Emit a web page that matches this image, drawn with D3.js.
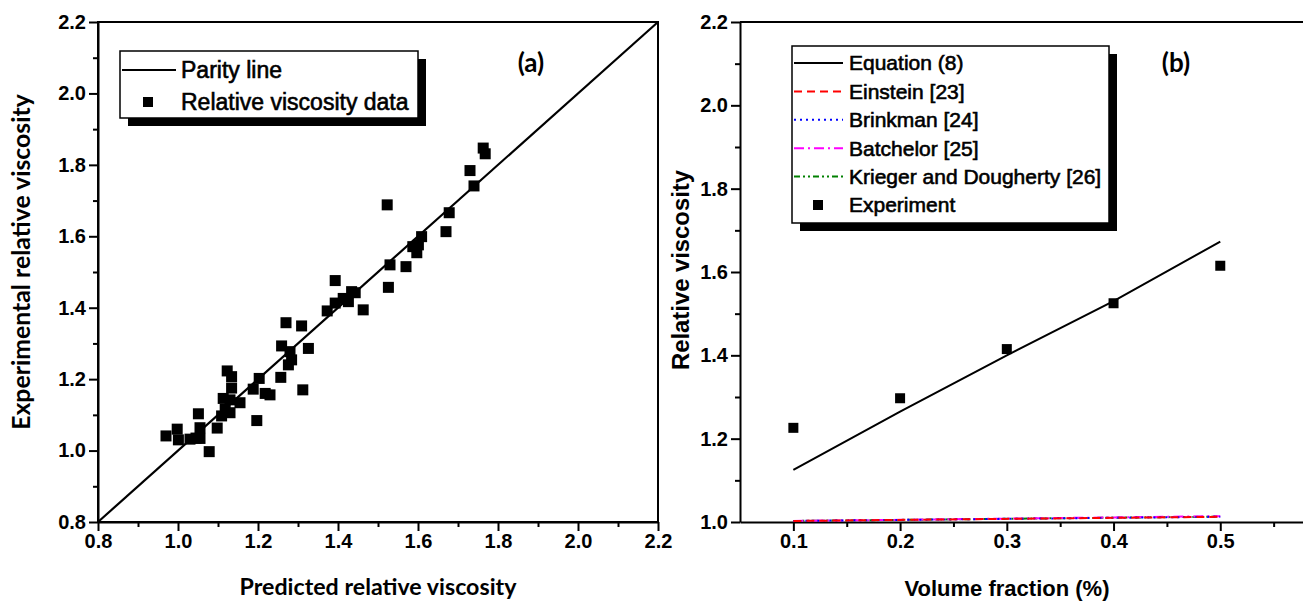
<!DOCTYPE html>
<html>
<head>
<meta charset="utf-8">
<script src="https://cdn.jsdelivr.net/npm/d3@7"></script>
<style>
  body { margin: 0; background: #fff; }
  svg { display: block; }
</style>
</head>
<body>
<div id="chart"></div>
<script>
// panel (a): predicted vs experimental relative viscosity
const predicted = [0.970, 0.998, 1.001, 1.030, 1.045, 1.051, 1.055, 1.055, 1.078, 1.098, 1.109, 1.113,
  1.123, 1.134, 1.134, 1.130, 1.130, 1.118, 1.155, 1.188, 1.197, 1.203, 1.218, 1.230, 1.257, 1.259,
  1.270, 1.280, 1.284, 1.276, 1.309, 1.312, 1.326, 1.373, 1.393, 1.393, 1.413, 1.426, 1.434, 1.443,
  1.463, 1.523, 1.526, 1.530, 1.570, 1.587, 1.597, 1.601, 1.609, 1.670, 1.678, 1.730, 1.740, 1.763, 1.768];
const experimental = [1.041, 1.060, 1.030, 1.032, 1.035, 1.103, 1.064, 1.034, 0.997, 1.063, 1.097, 1.146,
  1.223, 1.207, 1.175, 1.142, 1.106, 1.115, 1.134, 1.172, 1.084, 1.202, 1.160, 1.156, 1.205, 1.293,
  1.358, 1.277, 1.254, 1.240, 1.349, 1.170, 1.286, 1.391, 1.476, 1.413, 1.426, 1.417, 1.445, 1.442,
  1.394, 1.688, 1.457, 1.520, 1.515, 1.571, 1.554, 1.576, 1.599, 1.613, 1.666, 1.784, 1.741, 1.847, 1.831];
const parityEnds = [0.8, 2.2];
const aMajorTicks = [0.8, 1.0, 1.2, 1.4, 1.6, 1.8, 2.0, 2.2];
const aMinorTicks = [0.9, 1.1, 1.3, 1.5, 1.7, 1.9, 2.1];

// panel (b): relative viscosity vs volume fraction
const fractions = [0.1, 0.2, 0.3, 0.4, 0.5];
const experiment = [1.226, 1.297, 1.415, 1.525, 1.615];
const equation8 = [1.125, 1.265, 1.400, 1.530, 1.673];
const einstein = [1.0025, 1.0050, 1.0075, 1.0100, 1.0125];
const brinkman = [1.0025, 1.0050, 1.0076, 1.0101, 1.0126];
const batchelor = [1.0026, 1.0052, 1.0081, 1.0110, 1.0140];
const krieger = [1.0025, 1.0051, 1.0077, 1.0103, 1.0130];
const bxMajorTicks = [0.1, 0.2, 0.3, 0.4, 0.5];
const bxMinorTicks = [0.15, 0.25, 0.35, 0.45, 0.55];
const byMajorTicks = [1.0, 1.2, 1.4, 1.6, 1.8, 2.0, 2.2];
const byMinorTicks = [1.1, 1.3, 1.5, 1.7, 1.9, 2.1];

const models = [
  { name: "Equation (8)", values: equation8, color: "#000", dash: "none" },
  { name: "Einstein [23]", values: einstein, color: "#ff0000", dash: "8,5" },
  { name: "Brinkman [24]", values: brinkman, color: "#0000ff", dash: "2,4" },
  { name: "Batchelor [25]", values: batchelor, color: "#ff00ff", dash: "10,4,2,4" },
  { name: "Krieger and Dougherty [26]", values: krieger, color: "#008000", dash: "6,3,2,3,2,3" },
];

const W = 1303, H = 601;
const ARIAL = "'Liberation Sans', Arial, sans-serif";
const CAL = "Lato, 'Open Sans', sans-serif";

const svg = d3.select("#chart").append("svg").attr("width", W).attr("height", H);

// draws a major+minor axis pair, ticks outward
function drawAxis(axisFn, scale, major, minor, transform) {
  const ga = svg.append("g").attr("transform", transform);
  ga.call(axisFn(scale).tickValues(major).tickFormat(d3.format(".1f"))
    .tickSize(9).tickSizeOuter(0).tickPadding(3));
  ga.append("g")
    .call(axisFn(scale).tickValues(minor).tickFormat("").tickSize(5).tickSizeOuter(0))
    .select(".domain").remove();
  ga.attr("font-family", ARIAL).attr("font-size", 20).attr("font-weight", "bold");
  ga.selectAll("line, path").attr("stroke", "#000").attr("stroke-width", 2);
  ga.selectAll("text").attr("fill", "#000");
  return ga;
}

function legendBox(x, y, w, h) {
  svg.append("rect").attr("x", x + 8).attr("y", y + 8).attr("width", w).attr("height", h).attr("fill", "#000");
  svg.append("rect").attr("x", x).attr("y", y).attr("width", w).attr("height", h)
    .attr("fill", "#fff").attr("stroke", "#000").attr("stroke-width", 1.5);
}

function legendText(x, y, txt, size) {
  svg.append("text").attr("x", x).attr("y", y).attr("dy", "0.35em")
    .attr("font-family", ARIAL).attr("font-size", size)
    .attr("stroke", "#000").attr("stroke-width", 0.6)
    .text(txt);
}

function fitTitle(sel, target) {
  const len = sel.node().getComputedTextLength();
  const fs = parseFloat(sel.attr("font-size"));
  sel.attr("font-size", fs * target / len);
}

// ---------- panel (a)
const xA = d3.scaleLinear().domain([0.8, 2.2]).range([98, 658]);
const yA = d3.scaleLinear().domain([0.8, 2.2]).range([522, 22]);

svg.append("rect").attr("x", 98).attr("y", 22).attr("width", 560).attr("height", 500)
  .attr("fill", "none").attr("stroke", "#000").attr("stroke-width", 2);

drawAxis(d3.axisBottom, xA, aMajorTicks, aMinorTicks, "translate(0,522)");
drawAxis(d3.axisLeft, yA, aMajorTicks, aMinorTicks, "translate(98,0)");

svg.append("path")
  .attr("d", d3.line().x((d) => xA(d)).y((d) => yA(d))(parityEnds))
  .attr("stroke", "#000").attr("stroke-width", 2.2).attr("fill", "none");

svg.append("g").selectAll("rect").data(predicted).join("rect")
  .attr("x", (d) => xA(d) - 5.5)
  .attr("y", (d, i) => yA(experimental[i]) - 5.5)
  .attr("width", 11).attr("height", 11).attr("fill", "#000");

legendBox(120, 51, 298, 67);
svg.append("line").attr("x1", 122).attr("x2", 176).attr("y1", 70).attr("y2", 70)
  .attr("stroke", "#000").attr("stroke-width", 2);
legendText(181, 70, "Parity line", 23);
svg.append("rect").attr("x", 143).attr("y", 97).attr("width", 10).attr("height", 10).attr("fill", "#000");
legendText(181, 102, "Relative viscosity data", 23);

svg.append("text").attr("x", 531).attr("y", 63).attr("dy", "0.35em").attr("text-anchor", "middle")
  .attr("font-family", CAL).attr("font-weight", 700).attr("font-size", 26).text("(a)");

const xTitleA = svg.append("text").attr("x", 378).attr("y", 595).attr("text-anchor", "middle")
  .attr("font-family", CAL).attr("font-weight", 700).attr("font-size", 22)
  .text("Predicted relative viscosity");
fitTitle(xTitleA, 277);
const yTitleA = svg.append("text").attr("transform", "translate(30,262) rotate(-90)")
  .attr("text-anchor", "middle")
  .attr("font-family", CAL).attr("font-weight", 700).attr("font-size", 22)
  .text("Experimental relative viscosity");
fitTitle(yTitleA, 336);

// ---------- panel (b)
const xB = d3.scaleLinear().domain([0.05, 0.6]).range([740, 1327]);
const yB = d3.scaleLinear().domain([1.0, 2.2]).range([522, 22]);

svg.append("line").attr("x1", 740).attr("x2", W).attr("y1", 22).attr("y2", 22)
  .attr("stroke", "#000").attr("stroke-width", 2);

drawAxis(d3.axisBottom, xB, bxMajorTicks, bxMinorTicks, "translate(0,522)");
drawAxis(d3.axisLeft, yB, byMajorTicks, byMinorTicks, "translate(740,0)");

const lineB = d3.line().x((d, i) => xB(fractions[i])).y((d) => yB(d));
models.slice().reverse().forEach((m) => {
  svg.append("path").attr("d", lineB(m.values))
    .attr("fill", "none").attr("stroke", m.color).attr("stroke-width", 2)
    .attr("stroke-dasharray", m.dash);
});

svg.append("g").selectAll("rect").data(experiment).join("rect")
  .attr("x", (d, i) => xB(fractions[i]) - 5)
  .attr("y", (d) => yB(d) - 5)
  .attr("width", 10).attr("height", 10).attr("fill", "#000");

legendBox(792, 46, 317, 177);
models.forEach((m, i) => {
  const ly = 63 + i * 28.4;
  svg.append("line").attr("x1", 794).attr("x2", 843).attr("y1", ly).attr("y2", ly)
    .attr("stroke", m.color).attr("stroke-width", 2).attr("stroke-dasharray", m.dash);
  legendText(849, ly, m.name, 21);
});
svg.append("rect").attr("x", 813).attr("y", 200).attr("width", 10).attr("height", 10).attr("fill", "#000");
legendText(849, 205, "Experiment", 21);

svg.append("text").attr("x", 1176).attr("y", 63).attr("dy", "0.35em").attr("text-anchor", "middle")
  .attr("font-family", CAL).attr("font-weight", 700).attr("font-size", 26).text("(b)");

const xTitleB = svg.append("text").attr("x", 1007).attr("y", 596).attr("text-anchor", "middle")
  .attr("font-family", ARIAL).attr("font-weight", "bold").attr("font-size", 21)
  .text("Volume fraction (%)");
fitTitle(xTitleB, 205);
const yTitleB = svg.append("text").attr("transform", "translate(689,270) rotate(-90)")
  .attr("text-anchor", "middle")
  .attr("font-family", ARIAL).attr("font-weight", "bold").attr("font-size", 21)
  .text("Relative viscosity");
fitTitle(yTitleB, 200);
</script>
</body>
</html>
